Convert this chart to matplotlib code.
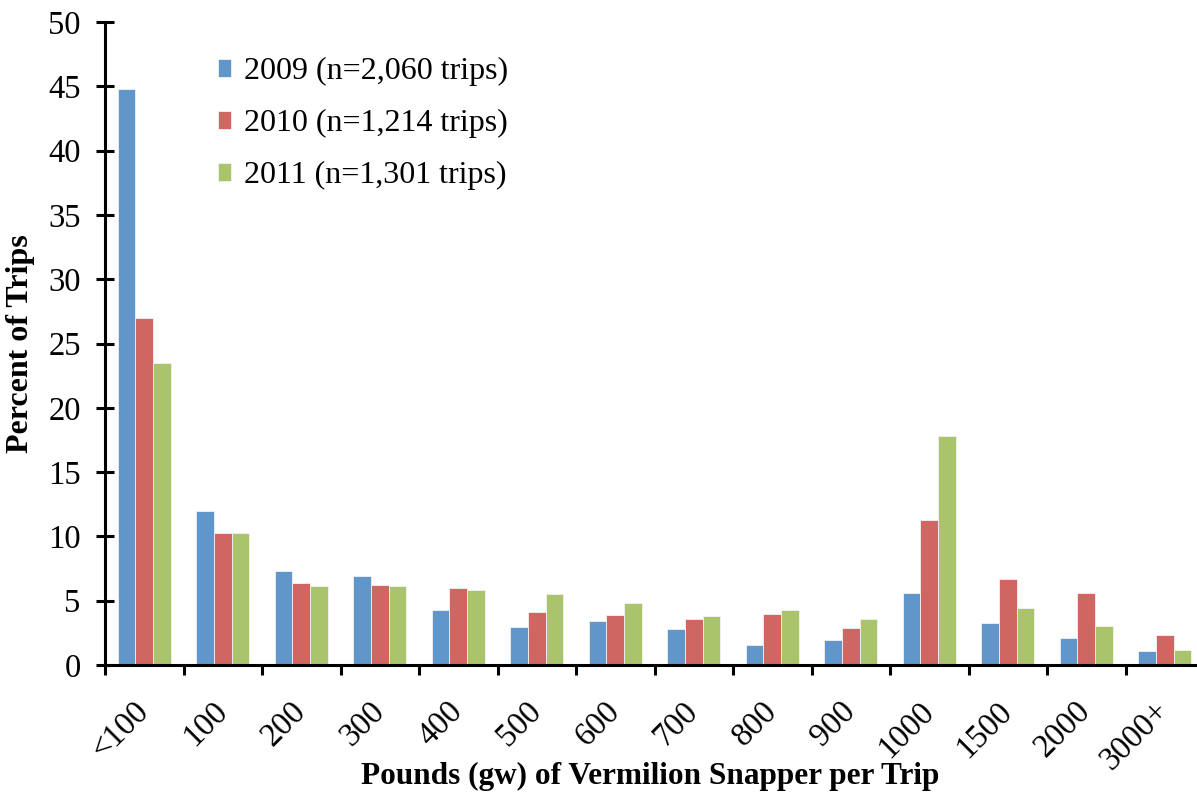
import matplotlib
matplotlib.use("Agg")
import matplotlib.pyplot as plt
import numpy as np

categories = ["<100", "100", "200", "300", "400", "500", "600", "700", "800", "900", "1000", "1500", "2000", "3000+"]
pct_2009 = [44.8, 12.0, 7.3, 6.9, 4.3, 2.95, 3.4, 2.8, 1.55, 1.95, 5.6, 3.3, 2.1, 1.05]
pct_2010 = [27.0, 10.25, 6.4, 6.2, 6.0, 4.1, 3.9, 3.6, 4.0, 2.9, 11.3, 6.7, 5.6, 2.3]
pct_2011 = [23.5, 10.25, 6.15, 6.15, 5.8, 5.55, 4.8, 3.8, 4.3, 3.6, 17.8, 4.45, 3.0, 1.2]
series_labels = ["2009 (n=2,060 trips)", "2010 (n=1,214 trips)", "2011 (n=1,301 trips)"]
colors = ["#6096CA", "#CF6661", "#A9C46B"]
yticks = list(range(0, 51, 5))

plt.rcParams['font.family'] = ['Liberation Serif', 'DejaVu Serif']

W, H = 1197, 794
fig = plt.figure(figsize=(W/100, H/100), dpi=100)
ax = fig.add_axes([105/W, 1-665/H, (1204-105)/W, (665-22)/H])

x = np.arange(len(categories)) + 0.5
bw = 0.223
for k, (vals, lab, c) in enumerate(zip([pct_2009, pct_2010, pct_2011], series_labels, colors)):
    ax.bar(x + (k-1)*bw, vals, width=bw, color=c, edgecolor='#f2f2f2', linewidth=0.6, label=lab)

ax.set_xlim(0, len(categories))
ax.set_ylim(0, 50)
ax.set_yticks(yticks)
ax.set_yticklabels([str(v) for v in yticks], fontsize=23.5)
ax.tick_params(axis='y', direction='inout', length=13, width=2.2, pad=11)

ax.set_xticks(np.arange(len(categories)+1))
ax.set_xticklabels([])
ax.tick_params(axis='x', which='major', direction='out', length=7, width=2.2)
ax.set_xticks(x, minor=True)
ax.set_xticklabels(categories, minor=True, fontsize=23.5, rotation=45, ha='right', va='center', rotation_mode='anchor')
ax.tick_params(axis='x', which='minor', length=0, pad=30)

for s in ['top', 'right']:
    ax.spines[s].set_visible(False)
for s in ['left', 'bottom']:
    ax.spines[s].set_linewidth(2.2)

ax.set_ylabel("Percent of Trips", fontsize=23, fontweight='bold')
ax.yaxis.set_label_coords(-(105-35)/(1204-105), 0.5)
ax.set_xlabel("Pounds (gw) of Vermilion Snapper per Trip", fontsize=22.5, fontweight='bold')
ax.xaxis.set_label_coords((650-105)/(1204-105), -(762-665)/(665-22))

leg = ax.legend(loc='upper left', bbox_to_anchor=((218-105)/(1204-105), 1-(57-22)/(665-22)),
                frameon=False, fontsize=23, handlelength=0.4, handleheight=0.5,
                handletextpad=0.4, labelspacing=0.72, borderaxespad=0, borderpad=0)

fig.savefig("out.png", dpi=100)
